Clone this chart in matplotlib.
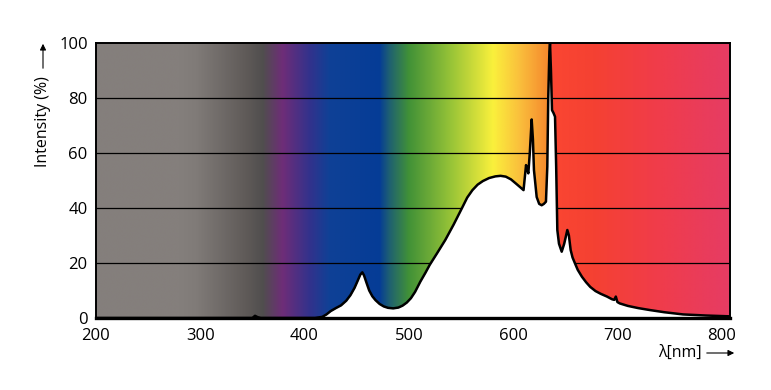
import numpy as np
import matplotlib
matplotlib.use('Agg')
import matplotlib.pyplot as plt
from matplotlib.colors import LinearSegmentedColormap

plt.rcParams['font.family'] = ['Open Sans', 'DejaVu Sans']

# spectrum
wavelength = [200, 350, 352.5, 355, 358, 410, 417, 421, 425, 430, 435, 440, 444, 448,
              451, 453.5, 455.4, 457, 459.6, 462, 465, 468, 472, 476, 480, 485, 490,
              494, 498, 502, 506, 511, 516, 520, 527, 535, 543, 551, 556, 561, 566,
              571, 577, 583, 588, 593, 598, 603, 607, 610, 612.4, 613.5, 614.6, 616,
              617.8, 619, 620, 622.6, 625, 627.4, 629.5, 631.5, 632.8, 633.7, 634.8,
              635.4, 636.3, 637.3, 638.8, 640.2, 641.3, 642.4, 644, 646.6, 649, 652,
              653.5, 655.2, 657, 659.3, 662, 666, 670, 674, 679, 684, 690, 695, 697,
              698.5, 700, 702.3, 710, 720, 731, 745, 763, 785, 808]
intensity = [0, 0, 0.8, 0.3, 0, 0, 0.4, 1.3, 2.5, 3.6, 4.6, 6.3, 8.3, 11,
             13.6, 15.8, 16.6, 15.5, 12.6, 10, 7.9, 6.5, 5.1, 4.2, 3.7, 3.5, 3.8,
             4.5, 5.6, 7.2, 9.5, 13.2, 16.5, 19.3, 23.5, 28.4, 34, 40, 43.8, 46.5, 48.5,
             49.8, 50.9, 51.5, 51.7, 51.4, 50.4, 48.8, 47.5, 46.5, 55.6, 54, 52.6, 60,
             72.2, 65, 53.8, 44, 41.5, 41, 41.5, 42.3, 55, 80, 97,
             100, 90, 75.6, 74.5, 73.2, 55, 32, 27, 24.1, 27, 32,
             30, 24.7, 22, 19.9, 17.5, 15, 13, 11.3, 9.8, 8.8, 7.8, 6.8, 6.6,
             7.8, 5.8, 5.3, 4.4, 3.6, 2.9, 2.1, 1.3, 0.9, 0.6]

x_ticks = [200, 300, 400, 500, 600, 700, 800]
y_ticks = [0, 20, 40, 60, 80, 100]

# background colours along the wavelength axis
stop_nm = [200, 280, 296, 344, 360, 379, 405, 424, 472, 481, 500, 540, 581, 607,
           634.5, 635, 639, 677, 741, 808]
stop_colors = ['#857f7c', '#847f7c', '#807b78', '#5f5a58', '#504e4e', '#6e2d78',
               '#32328c', '#0f4196', '#053c96', '#1e5f73', '#419137', '#96c337',
               '#faf03c', '#fabe3c', '#f5872d', '#fa4b32', '#fa4632', '#f54132',
               '#f03c4b', '#e63c64']

x_lo, x_hi = 200, 808
pos = [(n - x_lo) / (x_hi - x_lo) for n in stop_nm]
cmap = LinearSegmentedColormap.from_list('spec', list(zip(pos, stop_colors)), N=2048)

fig = plt.figure(figsize=(7.71, 3.9), dpi=100)
ax = fig.add_axes([96 / 771, 72 / 390, 634 / 771, 275 / 390])

grad = np.linspace(0, 1, 2000).reshape(1, -1)
ax.imshow(grad, cmap=cmap, extent=[x_lo, x_hi, 0, 100], aspect='auto', zorder=0,
          interpolation='bilinear')

for yv in y_ticks[1:-1]:
    ax.axhline(yv, color='black', lw=0.9, zorder=1)

ax.fill_between(wavelength, 0, intensity, color='white', zorder=2, lw=0)
ax.plot(wavelength, intensity, color='black', lw=1.8, zorder=3, solid_joinstyle='round')

ax.set_xlim(x_lo, x_hi)
ax.set_ylim(0, 100)
ax.set_xticks(x_ticks)
ax.set_yticks(y_ticks)
ax.tick_params(length=0, labelsize=12)
ax.tick_params(axis='y', pad=6)
ax.tick_params(axis='x', pad=7)

for side in ['left', 'right', 'top']:
    ax.spines[side].set_linewidth(1.4)
ax.spines['bottom'].set_linewidth(2.4)
for s in ax.spines.values():
    s.set_zorder(4)

# axis titles with arrows
fig.text(43 / 771, 1 - 122 / 390, 'Intensity (%)', rotation=90, ha='center', va='center',
         fontsize=11.5)
fig.text(680 / 771, 1 - 353 / 390, 'λ[nm]', ha='center', va='center', fontsize=11.5)

ax.annotate('', xy=(43 / 771, 1 - 41 / 390), xytext=(43 / 771, 1 - 71 / 390),
            xycoords='figure fraction', textcoords='figure fraction',
            arrowprops=dict(arrowstyle='-|>', color='black', lw=0.8, mutation_scale=9))
ax.annotate('', xy=(737 / 771, 1 - 353 / 390), xytext=(704 / 771, 1 - 353 / 390),
            xycoords='figure fraction', textcoords='figure fraction',
            arrowprops=dict(arrowstyle='-|>', color='black', lw=0.8, mutation_scale=9))

fig.savefig('out.png', dpi=100, facecolor='white')
